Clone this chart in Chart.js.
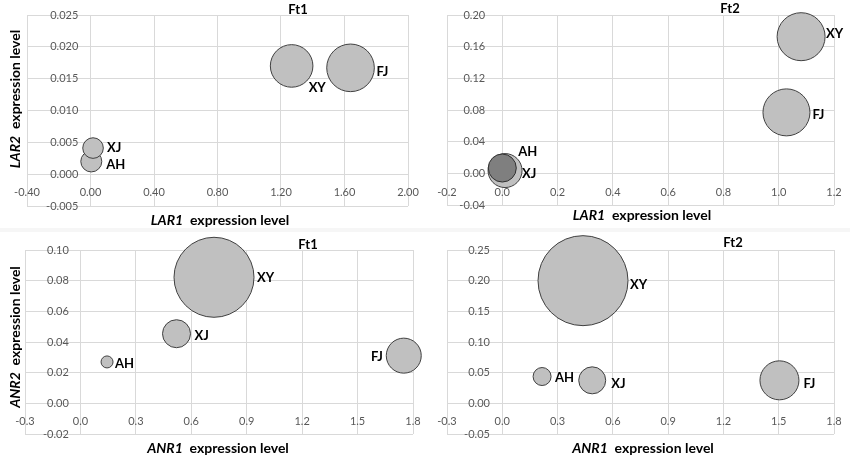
<!DOCTYPE html>
<html>
<head>
<meta charset="utf-8">
<script src="https://cdn.jsdelivr.net/npm/chart.js@4.4.1/dist/chart.umd.min.js"></script>
<style>
  body { margin:0; background:#fff; }
  #wrap { position:relative; width:850px; height:460px; background:#f6f6f6; }
  #wrap canvas { position:absolute; background:#fff; }
</style>
</head>
<body>
<div id="wrap">
  <canvas id="lar-ft1" width="425" height="228" style="left:0;top:0"></canvas>
  <canvas id="lar-ft2" width="425" height="228" style="left:425px;top:0"></canvas>
  <canvas id="anr-ft1" width="425" height="228" style="left:0;top:232px"></canvas>
  <canvas id="anr-ft2" width="425" height="228" style="left:425px;top:232px"></canvas>
</div>
<script>
// 데이터 (값은 그림에서 읽은 것)
var larFt1Names = ['AH','XJ','XY','FJ'];
var larFt1X = [0.005, 0.016, 1.267, 1.638];   // LAR1
var larFt1Y = [0.0020, 0.0041, 0.0170, 0.0167]; // LAR2
var larFt1Size = [10.5, 10.3, 21.3, 23.8];

var larFt2Names = ['XJ','AH','FJ','XY'];
var larFt2X = [0.010, 0.000, 1.028, 1.081];
var larFt2Y = [0.0035, 0.0067, 0.077, 0.1726];
var larFt2Size = [17, 14, 23.5, 24];

var anrFt1Names = ['AH','XJ','XY','FJ'];
var anrFt1X = [0.144, 0.520, 0.723, 1.750];   // ANR1
var anrFt1Y = [0.0270, 0.0454, 0.0822, 0.0311]; // ANR2
var anrFt1Size = [6, 14, 40, 17.5];

var anrFt2Names = ['AH','XJ','XY','FJ'];
var anrFt2X = [0.216, 0.488, 0.438, 1.504];
var anrFt2Y = [0.0437, 0.0375, 0.200, 0.0375];
var anrFt2Size = [9, 13.5, 45, 19.5];

var lightGrey = '#c0c0c0';
var darkGrey = '#7f7f7f';
var gridGrey = '#d9d9d9';
var tickGrey = '#595959';

function toPoints(xs, ys, rs) {
	var pts = [];
	for (var i = 0; i < xs.length; i++) pts.push({x: xs[i], y: ys[i], r: rs[i]});
	return pts;
}

function fmt(v, d) {
	if (Math.abs(v) < 1e-9) v = 0;   // -0.00 방지
	return v.toFixed(d);
}

// 기울임 유전자명 + 굵은 글씨
function drawAxisTitle(ctx, gene, cx, cy) {
	var rest = '  expression level';
	ctx.font = 'italic bold 14px Lato';
	var w1 = ctx.measureText(gene).width;
	ctx.font = 'bold 14px Lato';
	var w2 = ctx.measureText(rest).width;
	var x0 = cx - (w1 + w2) / 2;
	ctx.textAlign = 'left';
	ctx.textBaseline = 'middle';
	ctx.font = 'italic bold 14px Lato';
	ctx.fillText(gene, x0, cy);
	ctx.font = 'bold 14px Lato';
	ctx.fillText(rest, x0 + w1, cy);
}

var panelText = {
	id: 'panelText',
	afterDatasetsDraw: function(chart) {
		var o = chart.options.plugins.panelText;
		var ctx = chart.ctx;
		ctx.save();
		ctx.fillStyle = '#000';
		ctx.font = 'bold 13px Lato';
		ctx.textAlign = 'center';
		ctx.textBaseline = 'middle';
		ctx.fillText(o.title, o.titlePos[0], o.titlePos[1]);

		drawAxisTitle(ctx, o.xGene, o.xPos[0], o.xPos[1]);
		if (o.yGene) {
			ctx.save();
			ctx.translate(o.yPos[0], o.yPos[1]);
			ctx.rotate(-Math.PI / 2);
			drawAxisTitle(ctx, o.yGene, 0, 0);
			ctx.restore();
		}

		// 버블 이름표
		var meta = chart.getDatasetMeta(0);
		ctx.font = 'bold 13px Lato';
		ctx.textBaseline = 'middle';
		meta.data.forEach(function(pt, i) {
			var off = o.labelOff[i];
			ctx.textAlign = off[2] || 'left';
			ctx.fillText(o.names[i], pt.x + off[0], pt.y + off[1]);
		});
		ctx.restore();
	}
};

function makeChart(id, set) {
	return new Chart(document.getElementById(id), {
		type: 'bubble',
		data: {
			datasets: [{
				data: toPoints(set.xs, set.ys, set.rs),
				backgroundColor: set.colors,
				borderColor: set.borders,
				borderWidth: 1,
				clip: false
			}]
		},
		options: {
			responsive: false,
			animation: false,
			events: [],
			layout: { padding: set.pad, autoPadding: false },
			plugins: {
				legend: { display: false },
				tooltip: { enabled: false },
				panelText: set.text
			},
			scales: {
				x: {
					type: 'linear',
					min: set.xr[0], max: set.xr[1],
					// 축선은 안 그리고, 글자만 0 선 아래로 조금 띄움
					position: { y: set.xAt },
					grid: { color: gridGrey, drawTicks: false },
					border: { display: false },
					ticks: {
						stepSize: set.xr[2],
						autoSkip: false,
						maxRotation: 0,
						padding: 0,
						color: tickGrey,
						font: { family: 'Lato', size: 11 },
						callback: function(v) { return fmt(v, set.xr[3]); }
					}
				},
				y: {
					type: 'linear',
					min: set.yr[0], max: set.yr[1],
					position: { x: set.yAt },
					grid: { color: gridGrey, drawTicks: false },
					border: { display: false },
					ticks: {
						stepSize: set.yr[2],
						autoSkip: false,
						padding: 0,
						color: tickGrey,
						font: { family: 'Lato', size: 11 },
						callback: function(v) { return fmt(v, set.yr[3]); }
					}
				}
			}
		},
		plugins: [panelText]
	});
}

var edge = '#404040';

makeChart('lar-ft1', {
	xs: larFt1X, ys: larFt1Y, rs: larFt1Size,
	colors: lightGrey, borders: edge,
	pad: { left: 27, right: 17, top: 15, bottom: 22 },
	xr: [-0.4, 2.0, 0.4, 2], yr: [-0.005, 0.025, 0.005, 3],
	xAt: -0.00188, yAt: -0.077,
	text: {
		title: 'Ft1', titlePos: [298, 10],
		xGene: 'LAR1', xPos: [220, 220],
		yGene: 'LAR2', yPos: [15, 99],
		names: larFt1Names,
		labelOff: [[15, 3], [14, 0], [17, 22], [26, 4]]
	}
});

makeChart('lar-ft2', {
	xs: larFt2X, ys: larFt2Y, rs: larFt2Size,
	colors: [lightGrey, darkGrey, lightGrey, lightGrey], borders: ['#404040', '#303030', '#404040', '#404040'],
	pad: { left: 22, right: 16, top: 15, bottom: 23 },
	xr: [-0.2, 1.2, 0.2, 1], yr: [-0.04, 0.20, 0.04, 2],
	xAt: -0.0152, yAt: -0.062,
	text: {
		title: 'Ft2', titlePos: [305, 9],
		xGene: 'LAR1', xPos: [217, 215],
		names: larFt2Names,
		labelOff: [[17, 3], [16, -16], [26, 2], [25, -3]]
	}
});

makeChart('anr-ft1', {
	xs: anrFt1X, ys: anrFt1Y, rs: anrFt1Size,
	colors: lightGrey, borders: edge,
	pad: { left: 25, right: 12, top: 18, bottom: 26 },
	xr: [-0.3, 1.8, 0.3, 1], yr: [-0.02, 0.10, 0.02, 2],
	xAt: -0.0078, yAt: -0.063,
	text: {
		title: 'Ft1', titlePos: [308, 13],
		xGene: 'ANR1', xPos: [218, 216],
		yGene: 'ANR2', yPos: [15, 105],
		names: anrFt1Names,
		labelOff: [[8, 2], [18, 2], [43, 1], [-21, 1, 'right']]
	}
});

makeChart('anr-ft2', {
	xs: anrFt2X, ys: anrFt2Y, rs: anrFt2Size,
	colors: lightGrey, borders: edge,
	pad: { left: 22, right: 16, top: 18, bottom: 26 },
	xr: [-0.3, 1.8, 0.3, 1], yr: [-0.05, 0.25, 0.05, 2],
	xAt: -0.0195, yAt: -0.067,
	text: {
		title: 'Ft2', titlePos: [308, 11],
		xGene: 'ANR1', xPos: [218, 216],
		names: anrFt2Names,
		labelOff: [[13, 1], [19, 3], [47, 4], [24, 3]]
	}
});
</script>
</body>
</html>
